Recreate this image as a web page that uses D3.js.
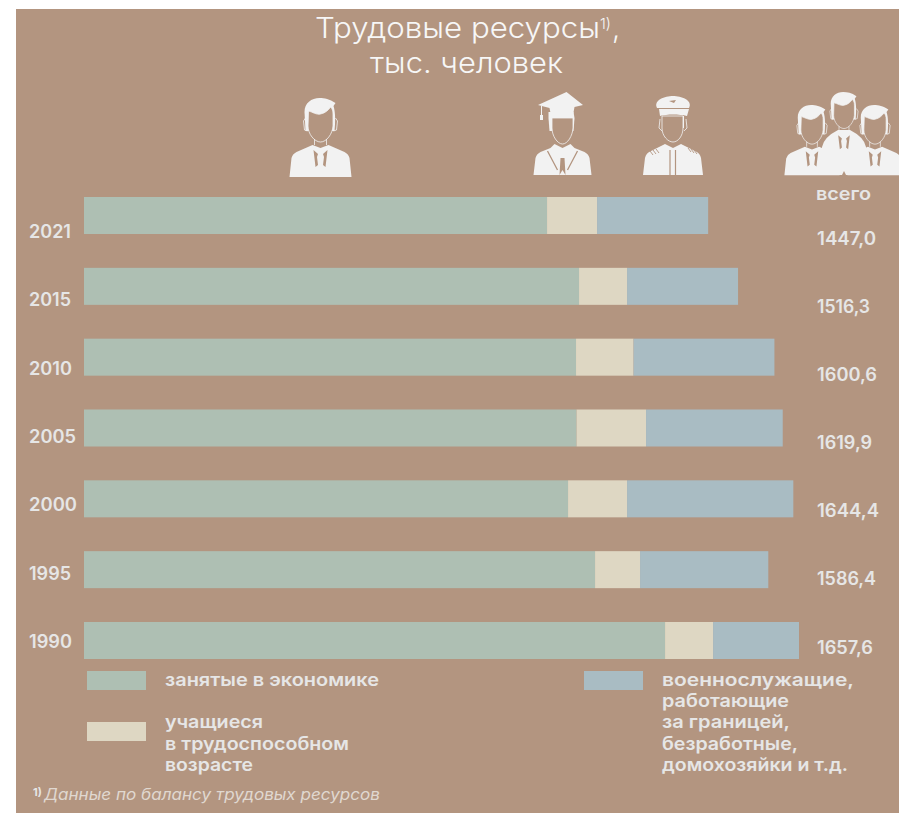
<!DOCTYPE html>
<html><head><meta charset="utf-8">
<style>
html,body{margin:0;padding:0;background:#fff}
svg{display:block}
text{font-family:Inter,"Noto Sans",sans-serif}
</style>
<script src="https://cdn.jsdelivr.net/npm/d3@7/dist/d3.min.js"></script>
</head><body><svg id="c" width="899" height="813"></svg>
<script>
const years=["2021","2015","2010","2005","2000","1995","1990"];
const employed=[1073.5,1147.7,1140.7,1141.9,1122.2,1184.8,1347.1];
const students=[116.0,111.3,133.3,161.1,136.8,104.3,111.3];
const others=[257.5,257.3,326.6,316.9,385.4,297.3,199.2];
const totals=["1447,0","1516,3","1600,6","1619,9","1644,4","1586,4","1657,6"];
const seriesKeys=["employed","students","others"];
const seriesColors=["#aebfb3","#ded7c3","#a9bcc3"];
const legendLeft=[["занятые в экономике"],["учащиеся","в трудоспособном","возрасте"]];
const legendRight=["военнослужащие,","работающие","за границей,","безработные,","домохозяйки и т.д."];

const BG="#b39580",INK="#f2f2f2",TXT="#e6e6e6";
const svg=d3.select("#c");
svg.append("rect").attr("x",16).attr("y",9).attr("width",883).attr("height",804).attr("fill",BG);

const rows=years.map((y,i)=>({year:y,employed:employed[i],students:students[i],others:others[i]}));
const x=d3.scaleLinear().domain([0,1657.6]).range([84,799]);
const y=d3.scaleBand().domain(years).range([197,659]).paddingInner(0.4776).paddingOuter(0);
const color=d3.scaleOrdinal(seriesKeys,seriesColors);
const stack=d3.stack().keys(seriesKeys)(rows);
svg.append("g").selectAll("g").data(stack).join("g").attr("fill",d=>color(d.key))
 .selectAll("rect").data(d=>d).join("rect")
 .attr("x",d=>x(d[0])).attr("width",d=>x(d[1])-x(d[0]))
 .attr("y",d=>y(d.data.year)).attr("height",y.bandwidth());

function label(t,xp,yp,size,weight,fill,w){
  const s=svg.append("text").attr("x",xp).attr("y",yp).attr("font-size",size)
   .attr("font-weight",weight).attr("fill",fill).text(t);
  if(w) s.attr("textLength",w).attr("lengthAdjust","spacingAndGlyphs");
  return s;
}
const yearY=d3.scalePoint().domain(years).range([238,648]);
const totalY=d3.scalePoint().domain(years).range([244.5,653.5]);
const yearWidth=[42,42,43,47,48,42,43];
const totalWidth=[59,53,60,55,62,59,56];
years.forEach((v,i)=>{
  label(v,29,yearY(v),18,600,TXT,yearWidth[i]);
  label(totals[i],817,totalY(v),18,600,TXT,totalWidth[i]);
});
label("всего",816,200,18,600,TXT,55);

// title
label("Трудовые ресурсы",315,38,29,300,"#f7f7f7",285);
label("1)",600,29,15,300,"#f7f7f7",11);
label(",",612,38,29,300,"#f7f7f7");
label("тыс. человек",370,73,29,300,"#f7f7f7",193);

// legend
const swatch=(xp,yp,c)=>svg.append("rect").attr("x",xp).attr("y",yp).attr("width",59).attr("height",19).attr("fill",c);
swatch(87,671,seriesColors[0]);swatch(87,722,seriesColors[1]);swatch(584,671,seriesColors[2]);
const leftBase=[[686],[728,750,771]];
const leftWidth=[[214],[98,184,88]];
legendLeft.forEach((g,i)=>g.forEach((s,j)=>label(s,165,leftBase[i][j],18,600,TXT,leftWidth[i][j])));
const rightBase=[686,707,728,750,771];
const rightWidth=[192,127,128,136,186];
legendRight.forEach((s,j)=>label(s,662,rightBase[j],18,600,TXT,rightWidth[j]));

// footnote
label("1)",33,796,11,700,TXT);
label("Данные по балансу трудовых ресурсов",44,800,15.5,400,"#e0d8d0",336).attr("font-style","italic");

// icons
function head(g){
  g.append("path").attr("fill",INK)
   .attr("d","M-15,33 L-16,14 C-16,5 -9,0 -1,0 C4,0 9,1 15,5 L13,8 C15,14 15,24 14,33 Z");
  g.append("path").attr("fill",BG).attr("stroke",INK).attr("stroke-width",0.8)
   .attr("d","M-12,13 C-8,14 -4,17 0,16 C5,15 8,12 10,9 C12,11 12.5,13 12.5,16 L12.5,28 C12,36 6,44 0,44 C-6,44 -12.5,36 -12.5,28 Z");
  g.append("path").attr("fill","none").attr("stroke",INK).attr("stroke-width",0.8)
   .attr("d","M-15,20 L-17,23 L-16,32 L-13,33 M15,20 L17,23 L16,32 L13,33 M-6,41 L-6,47 M6,41 L6,47");
}
function suit(g){
  g.append("path").attr("fill",INK)
   .attr("d","M-31,79 L-29,60 Q-28,56 -24,54 L-8,47 L0,50 L8,47 L24,54 Q28,56 29,60 L31,79 Z");
  g.append("path").attr("fill",BG)
   .attr("d","M-7,52 L-2.5,56 L-3.5,59 L-2.5,67 L-5,69 Z M7,52 L2.5,56 L3.5,59 L2.5,67 L5,69 Z");
}
function man(cx,top,s){
  const g=svg.append("g").attr("transform",`translate(${cx},${top}) scale(${s})`);
  suit(g);head(g);return g;
}
man(320.5,98,1);

// graduate
{
 const g=svg.append("g").attr("transform","translate(562.5,98)");
 g.append("path").attr("fill",INK).attr("d","M-29,77 L-27,60 Q-26,56 -22,54 L-12,50 L-8,46 L0,50 L8,46 L12,50 L22,54 Q26,56 27,60 L29,77 Z");
 g.append("path").attr("fill","none").attr("stroke",BG).attr("stroke-width",1.3)
  .attr("d","M-15,53 L-5,72 M15,53 L5,72");
 g.append("path").attr("fill",BG).attr("d","M-2,60 L2,60 L3,77 L0,72 L-3,77 Z");
 g.append("path").attr("fill",INK).attr("d","M-13,33 L-14,20 L-14,14 L11,14 L12,20 L11,33 Z");
 g.append("path").attr("fill",BG).attr("stroke",INK).attr("stroke-width",0.8)
  .attr("d","M-10.5,20 L10.5,20 L10.5,30 C10,38 5,46 0,46 C-5,46 -10.5,38 -10.5,30 Z");
 g.append("path").attr("fill",INK).attr("d","M4,-6 L20.5,7 L12,9 L10,20 L-11,20 L-13,10 L-24.5,7 Z");
 g.append("path").attr("fill","none").attr("stroke",INK).attr("stroke-width",1).attr("d","M-21,8 L-21,18");
 g.append("rect").attr("x",-22.5).attr("y",17).attr("width",3).attr("height",5).attr("fill",INK);
}
// pilot
{
 const g=svg.append("g").attr("transform","translate(673,98)");
 g.append("path").attr("fill",INK).attr("d","M-30,77 L-28,60 Q-27,55 -22,53 L-8,46 L0,50 L8,46 L22,53 Q27,55 28,60 L30,77 Z");
 g.append("path").attr("fill","none").attr("stroke",BG).attr("stroke-width",1.2)
  .attr("d","M-3,52 L-3,77 M2.5,52 L2.5,77");
 g.append("path").attr("fill","none").attr("stroke",BG).attr("stroke-width",0.9)
  .attr("d","M-23,53 L-20,57 M-20,52 L-17,56 M-17,51 L-14,55 M21,52 L24,56 M18,51 L21,55 M15,50 L18,54");
 g.append("path").attr("fill",INK).attr("d","M-11,30 L-11,18 L11,18 L11,30 Z");
 g.append("path").attr("fill",BG).attr("stroke",INK).attr("stroke-width",0.8)
  .attr("d","M-11,18 L10,18 L10,30 C10,38 5,44 0,44 C-5,44 -11,38 -11,30 Z");
 g.append("path").attr("fill","none").attr("stroke",INK).attr("stroke-width",0.8)
  .attr("d","M-13,21 L-14,30 L-11,33 M13,21 L14,30 L11,33");
 g.append("path").attr("fill",INK).attr("d","M-16,10 C-20,2 -8,-2 0,-2 C8,-2 20,2 16,10 Z");
 g.append("path").attr("fill",INK).attr("d","M-14,11 L16,11 L14,18 C6,16 -6,16 -13,18 Z");
 g.append("path").attr("fill",BG).attr("d","M-4,3 L3,2 L1,5 Z");
}
// group
{
 const m=svg.append("g").attr("transform","translate(844,92)");
 m.append("path").attr("fill",INK).attr("d","M-22,83 L-22,55 Q-20,45 -6,38 L6,38 Q20,45 22,55 L22,83 Z");
 const mg=m.append("g").attr("transform","scale(.83)");
 head(mg);
 mg.append("path").attr("fill",BG).attr("d","M-7,52 L-2.5,56 L-3.5,59 L-2.5,67 L-5,69 Z M7,52 L2.5,56 L3.5,59 L2.5,67 L5,69 Z");
 m.append("path").attr("fill",BG).attr("d","M-2,83 L0,79 L2,83 Z");
 man(812,105,0.89);
 man(875,105,0.89);
}
</script></body></html>
